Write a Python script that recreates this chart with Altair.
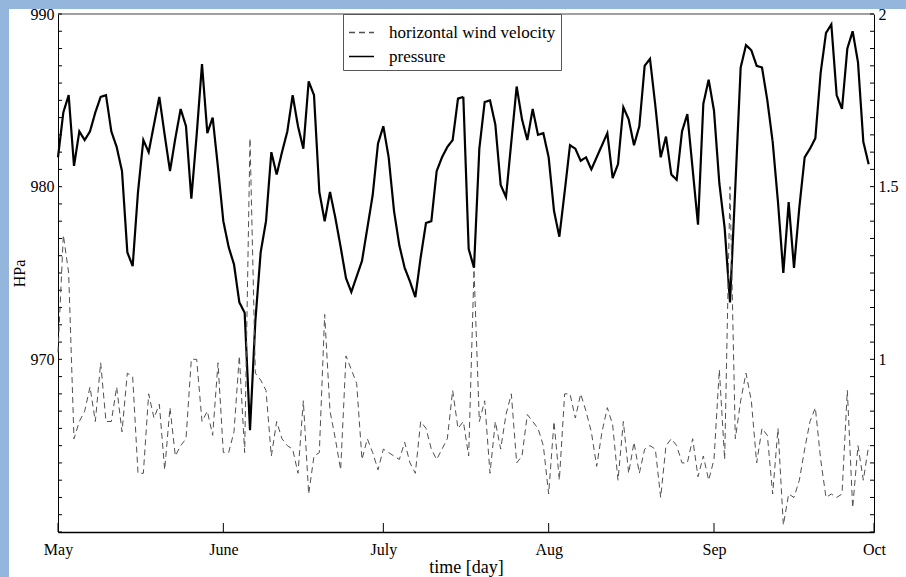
import json

import altair as alt
import pandas as pd

# ---- data -----------------------------------------------------------------
# day index counted from 1 May
DAY = list(range(153))

PRESSURE_HPA = [
    981.7, 984.3, 985.3, 981.2, 983.2, 982.7, 983.2, 984.3, 985.2, 985.3,
    983.2, 982.3, 980.9, 976.2, 975.4, 979.7, 982.7, 982.0, 983.6, 985.2,
    983.0, 980.9, 982.8, 984.5, 983.5, 979.3, 983.0, 987.1, 983.1, 984.0,
    981.1, 978.0, 976.5, 975.5, 973.3, 972.7, 965.9, 972.2, 976.2, 978.0,
    982.0, 980.7, 982.0, 983.2, 985.3, 983.5, 982.2, 986.1, 985.3, 979.7,
    978.0, 979.7, 978.2, 976.5, 974.7, 973.9, 974.8, 975.7, 977.6, 979.5,
    982.5, 983.5, 981.7, 978.6, 976.6, 975.3, 974.5, 973.6, 975.9, 977.9,
    978.0, 980.9, 981.7, 982.3, 982.7, 985.1, 985.2, 976.4, 975.3, 982.2,
    984.9, 985.0, 983.6, 980.1, 979.4, 982.6, 985.8, 983.9, 982.7, 984.5,
    983.0, 983.1, 981.7, 978.6, 977.1, 979.7, 982.4, 982.2, 981.5, 981.7,
    981.0, 981.7, 982.4, 983.1, 980.5, 981.3, 984.6, 983.9, 982.4, 983.5,
    987.0, 987.4, 984.7, 981.7, 982.9, 980.7, 980.4, 983.2, 984.2, 981.0,
    977.8, 984.8, 986.2, 984.4, 980.2, 977.6, 973.3, 980.0, 986.9, 988.2,
    987.9, 987.0, 986.9, 985.0, 982.6, 979.1, 975.0, 979.1, 975.3, 978.8,
    981.7, 982.2, 982.8, 986.6, 988.9, 989.4, 985.3, 984.5, 988.0, 989.0,
    987.2, 982.6, 981.3,
]

WIND_VELOCITY = [
    1.02, 1.36, 1.25, 0.77, 0.82, 0.85, 0.92, 0.82, 0.99, 0.82,
    0.82, 0.92, 0.79, 0.96, 0.95, 0.67, 0.67, 0.90, 0.83, 0.87,
    0.68, 0.86, 0.72, 0.75, 0.77, 1.00, 1.00, 0.82, 0.85, 0.78,
    0.99, 0.73, 0.73, 0.79, 1.01, 0.73, 1.64, 0.96, 0.94, 0.91,
    0.72, 0.82, 0.77, 0.75, 0.74, 0.67, 0.88, 0.61, 0.72, 0.73,
    1.13, 0.85, 0.77, 0.68, 1.01, 0.97, 0.93, 0.71, 0.77, 0.73,
    0.68, 0.74, 0.73, 0.72, 0.71, 0.76, 0.70, 0.67, 0.82, 0.80,
    0.74, 0.71, 0.74, 0.77, 0.91, 0.80, 0.82, 0.72, 1.26, 0.82,
    0.88, 0.67, 0.82, 0.74, 0.84, 0.90, 0.70, 0.72, 0.84, 0.82,
    0.80, 0.75, 0.61, 0.82, 0.65, 0.90, 0.90, 0.83, 0.90, 0.85,
    0.79, 0.69, 0.79, 0.86, 0.81, 0.65, 0.82, 0.67, 0.76, 0.67,
    0.74, 0.75, 0.74, 0.60, 0.75, 0.77, 0.75, 0.70, 0.70, 0.77,
    0.66, 0.72, 0.65, 0.71, 0.97, 0.71, 1.50, 0.77, 0.88, 0.96,
    0.88, 0.70, 0.80, 0.78, 0.61, 0.80, 0.52, 0.61, 0.60, 0.65,
    0.74, 0.82, 0.86, 0.71, 0.60, 0.61, 0.60, 0.61, 0.91, 0.57,
    0.75, 0.65, 0.75,
]

MONTH_START_DAY = [0, 31, 61, 92, 123, 153]
MONTH_LABEL = ["May", "June", "July", "Aug", "Sep", "Oct"]

HPA_LABELS = [970, 980, 990]
HPA_MINOR = list(range(960, 991))
VEL_LABELS = [1, 1.5, 2]
VEL_MINOR = [round(0.5 + 0.05 * i, 2) for i in range(31)]

SERIES = ["horizontal wind velocity", "pressure"]

# ---- layout / style -------------------------------------------------------
FONT = "Liberation Serif"
W, H = 816, 518
PAD = {"left": 58, "top": 14, "right": 32, "bottom": 45}
FRAME_BLUE = "#94b6dc"

pressure_df = pd.DataFrame({"day": DAY, "value": PRESSURE_HPA, "series": SERIES[1]})
wind_df = pd.DataFrame({"day": DAY, "value": WIND_VELOCITY, "series": SERIES[0]})
one_row = pd.DataFrame({"k": [0]})

x_scale = alt.Scale(domain=[0, 153], nice=False, zero=False)
p_scale = alt.Scale(domain=[960, 990], nice=False, zero=False)
w_scale = alt.Scale(domain=[0.5, 2], nice=False, zero=False)

month_expr = "{}[indexof({}, datum.value)]".format(
    json.dumps(MONTH_LABEL), json.dumps(MONTH_START_DAY)
)

common_axis = dict(
    labelFont=FONT, labelFontSize=16, labelColor="black",
    titleFont=FONT, titleFontWeight="normal", titleColor="black",
    ticks=False, domain=True, domainColor="black", grid=False,
    labelFlush=False, labelOverlap=False,
)

x_axis = alt.Axis(values=MONTH_START_DAY, labelExpr=month_expr, title="time [day]",
                  titleFontSize=18, labelPadding=9, titlePadding=1, domainWidth=1.5,
                  **common_axis)
p_axis = alt.Axis(values=HPA_LABELS, title="HPa", orient="left", titleFontSize=16,
                  labelPadding=4, titlePadding=3, **common_axis)
w_axis = alt.Axis(values=VEL_LABELS, format="~g", title=None, orient="right",
                  labelPadding=4, **common_axis)

legend = alt.Legend(
    title=None, orient="none", legendX=285, legendY=0, direction="vertical",
    symbolType="stroke", symbolSize=625, symbolStrokeWidth=1.5,
    strokeColor="#555555", fillColor="white",
    padding=5, rowPadding=2, labelFont=FONT, labelFontSize=17, labelColor="black",
    labelOffset=14, labelLimit=300,
)
color = alt.Color("series:N", scale=alt.Scale(domain=SERIES, range=["#505050", "#000000"]), legend=legend)
dash = alt.StrokeDash("series:N", scale=alt.Scale(domain=SERIES, range=[[6, 4], [1, 0]]), legend=legend)

# ---- blue page frame along the left and top edges ----------------------------
left_band = alt.Chart(one_row).mark_rect(color=FRAME_BLUE).encode(
    x=alt.value(-PAD["left"]), x2=alt.value(-49),
    y=alt.value(-PAD["top"]), y2=alt.value(H + PAD["bottom"]),
)
top_band = alt.Chart(one_row).mark_rect(color=FRAME_BLUE).encode(
    x=alt.value(-PAD["left"]), x2=alt.value(W + PAD["right"]),
    y=alt.value(-PAD["top"]), y2=alt.value(-5),
)

# ---- pressure (left axis) ---------------------------------------------------
top_frame = alt.Chart(one_row).mark_rule(color="#808080", strokeWidth=1.5).encode(
    x=alt.value(0), x2=alt.value(W), y=alt.value(0)
)
month_ticks = alt.Chart(pd.DataFrame({"day": MONTH_START_DAY})).mark_rule(color="black").encode(
    x=alt.X("day:Q", scale=x_scale, axis=x_axis), y=alt.value(H), y2=alt.value(H - 9)
)
hpa_ticks = alt.Chart(pd.DataFrame({"value": HPA_MINOR})).mark_rule(color="black").encode(
    y=alt.Y("value:Q", scale=p_scale, axis=p_axis), x=alt.value(0), x2=alt.value(4)
)
pressure_line = alt.Chart(pressure_df).mark_line(strokeWidth=2.2).encode(
    x=alt.X("day:Q", scale=x_scale, axis=x_axis),
    y=alt.Y("value:Q", scale=p_scale, axis=p_axis),
    color=color, strokeDash=dash,
)
pressure_group = alt.layer(left_band, top_band, top_frame, month_ticks, hpa_ticks, pressure_line)

# ---- wind velocity (right axis) ---------------------------------------------
vel_ticks = alt.Chart(pd.DataFrame({"value": VEL_MINOR})).mark_rule(color="black").encode(
    y=alt.Y("value:Q", scale=w_scale, axis=w_axis), x=alt.value(W - 4), x2=alt.value(W)
)
wind_line = alt.Chart(wind_df).mark_line(strokeWidth=1).encode(
    x=alt.X("day:Q", scale=x_scale, axis=x_axis),
    y=alt.Y("value:Q", scale=w_scale, axis=w_axis),
    color=color, strokeDash=dash,
)
wind_group = alt.layer(vel_ticks, wind_line)

chart = (
    alt.layer(pressure_group, wind_group)
    .resolve_scale(y="independent")
    .properties(width=W, height=H, autosize=alt.AutoSizeParams(type="none"), padding=PAD)
    .configure(background="white", font=FONT)
    .configure_legend(labelFont=FONT, labelFontSize=17, labelColor="black")
    .configure_view(stroke=None)
)

chart.save("out.html", embed_options={"renderer": "svg", "actions": False})
